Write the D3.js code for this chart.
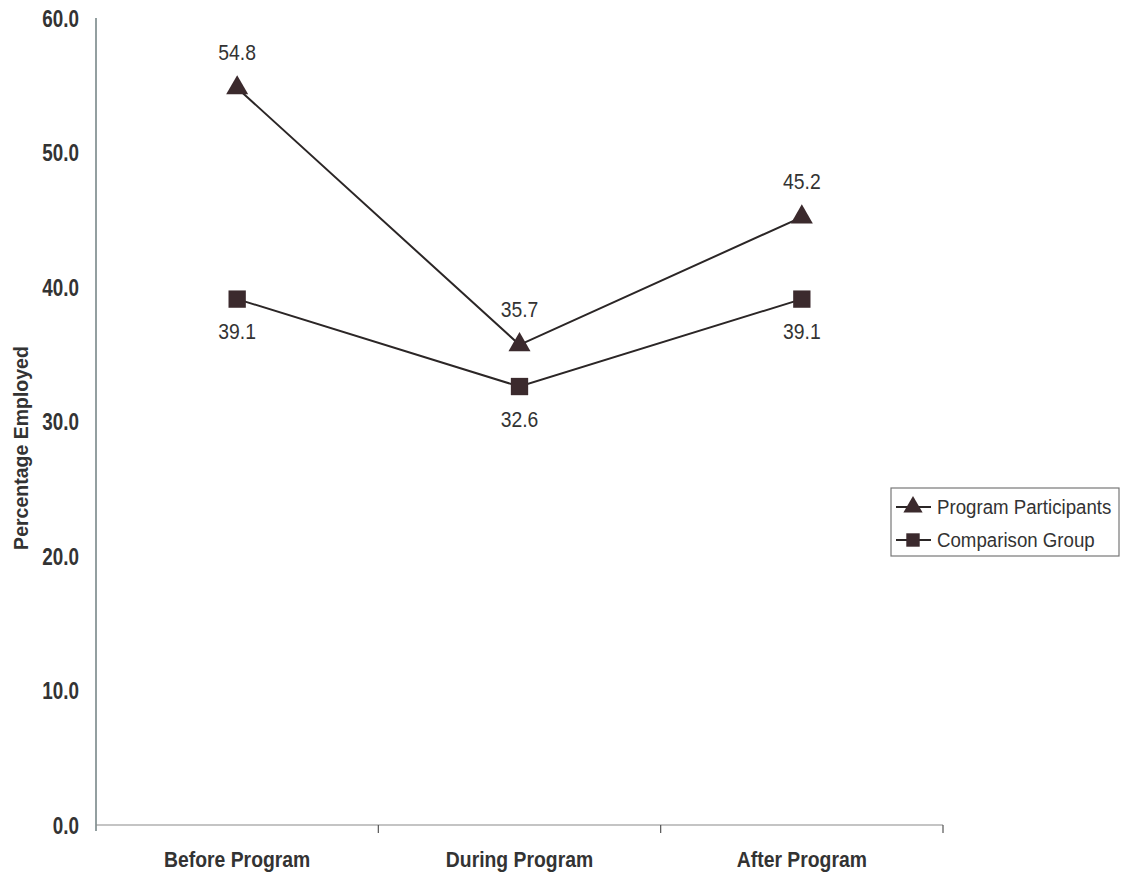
<!DOCTYPE html>
<html>
<head>
<meta charset="utf-8">
<script src="https://cdn.jsdelivr.net/npm/d3@7"></script>
<style>
  html, body { margin: 0; padding: 0; background: #fff; }
  svg { display: block; }
  text { font-family: "Liberation Sans", Arial, sans-serif; fill: #333; }
</style>
</head>
<body>
<svg id="chart" width="1126" height="877"></svg>
<script>
// Employment rates by program phase
const categories = ["Before Program", "During Program", "After Program"];
const participants = [54.8, 35.7, 45.2];
const comparison = [39.1, 32.6, 39.1];
const yTicks = [0, 10, 20, 30, 40, 50, 60];
const seriesNames = ["Program Participants", "Comparison Group"];

const svg = d3.select("#chart");
const plotLeft = 96, plotRight = 943, plotTop = 18, plotBottom = 825;

const x = d3.scaleBand().domain(categories).range([plotLeft, plotRight]);
const y = d3.scaleLinear().domain([0, 60]).range([plotBottom, plotTop]);
const cx = d => x(d) + x.bandwidth() / 2;

const lineColor = "#2b2626";
const markColor = "#3b2a2d";

// narrow-looking text: place at (px, py) and squeeze horizontally
const narrow = (px, py, sx) => `translate(${px},${py}) scale(${sx},1)`;

// Y axis
const yAxis = svg.append("g")
  .attr("transform", `translate(${plotLeft},0)`)
  .call(d3.axisLeft(y).tickValues(yTicks).tickFormat(d3.format(".1f")).tickSize(0).tickPadding(16));
yAxis.select(".domain").attr("stroke", "#6f7f80").attr("stroke-width", 1.5).attr("d", `M0,${plotTop}V${plotBottom + 6}`);
yAxis.selectAll("text")
  .attr("font-size", 23).attr("font-weight", "bold").attr("fill", "#333")
  .attr("font-family", "Liberation Sans, Arial, sans-serif")
  .attr("x", -17 / 0.82).attr("dy", "0.35em")
  .attr("transform", "scale(0.82,1)");

// X axis with ticks at band boundaries
const xg = svg.append("g").attr("transform", `translate(0,${plotBottom})`);
xg.append("line").attr("x1", plotLeft).attr("x2", plotRight).attr("stroke", "#8a8a8a").attr("stroke-width", 1.2);
xg.selectAll(".tk").data(categories)
  .join("line")
  .attr("x1", d => x(d) + x.bandwidth())
  .attr("x2", d => x(d) + x.bandwidth())
  .attr("y1", 0).attr("y2", 8)
  .attr("stroke", "#555").attr("stroke-width", 1.2);
xg.selectAll(".lbl").data(categories).join("text")
  .attr("transform", d => narrow(cx(d), 42, 0.88))
  .attr("text-anchor", "middle")
  .attr("font-size", 22).attr("font-weight", "bold")
  .text(d => d);

// Y axis title
svg.append("text")
  .attr("transform", `translate(28,${448}) rotate(-90)`)
  .attr("text-anchor", "middle")
  .attr("font-size", 19.5).attr("font-weight", "bold")
  .text("Percentage Employed");

const line = d3.line().x((d, i) => cx(categories[i])).y(d => y(d));
const tri = d3.symbol().type(d3.symbolTriangle).size(210);
const sq = d3.symbol().type(d3.symbolSquare).size(300);

// Series lines
[participants, comparison].forEach(vals => {
  svg.append("path").datum(vals).attr("d", line)
    .attr("fill", "none").attr("stroke", lineColor).attr("stroke-width", 2);
});

// Participant markers and labels (above)
svg.selectAll(".pt").data(participants).join("path")
  .attr("d", tri)
  .attr("transform", (d, i) => `translate(${cx(categories[i])},${y(d)})`)
  .attr("fill", markColor);
svg.selectAll(".pl").data(participants).join("text")
  .attr("transform", (d, i) => narrow(cx(categories[i]), y(d) - 28, 0.9))
  .attr("text-anchor", "middle").attr("font-size", 21.5)
  .text(d => d.toFixed(1));

// Comparison markers and labels (below)
svg.selectAll(".cs").data(comparison).join("path")
  .attr("d", sq)
  .attr("transform", (d, i) => `translate(${cx(categories[i])},${y(d)})`)
  .attr("fill", markColor);
svg.selectAll(".cl").data(comparison).join("text")
  .attr("transform", (d, i) => narrow(cx(categories[i]), y(d) + 40, 0.9))
  .attr("text-anchor", "middle").attr("font-size", 21.5)
  .text(d => d.toFixed(1));

// Legend
const lg = svg.append("g").attr("transform", "translate(891,488)");
lg.append("rect").attr("width", 228).attr("height", 68)
  .attr("fill", "#fff").attr("stroke", "#777").attr("stroke-width", 1.2);
seriesNames.forEach((name, i) => {
  const yy = 19 + i * 33;
  lg.append("line").attr("x1", 5).attr("x2", 40).attr("y1", yy).attr("y2", yy)
    .attr("stroke", lineColor).attr("stroke-width", 2);
  lg.append("path").attr("d", i === 0 ? d3.symbol().type(d3.symbolTriangle).size(160)() : d3.symbol().type(d3.symbolSquare).size(180)())
    .attr("transform", `translate(22,${yy})`).attr("fill", markColor);
  lg.append("text").attr("transform", narrow(46, yy, 0.89)).attr("dy", "0.35em")
    .attr("font-size", 21).text(name);
});
</script>
</body>
</html>
